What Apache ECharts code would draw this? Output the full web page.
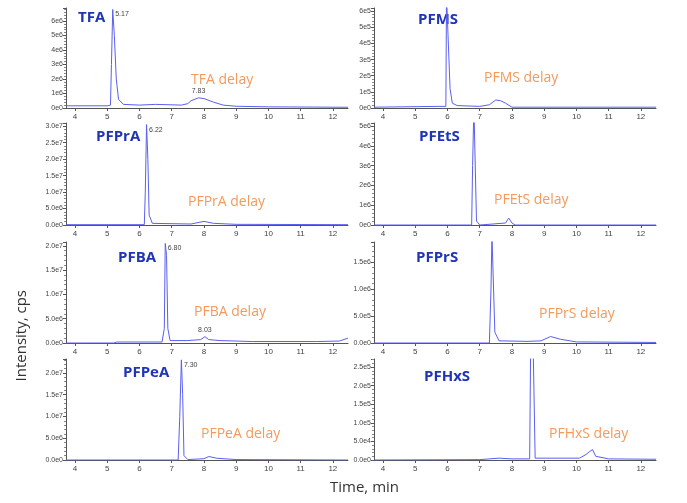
<!DOCTYPE html>
<html>
<head>
<meta charset="utf-8">
<title>PFAS chromatograms</title>
</head>
<body style="margin:0">
<div id="main" style="width:687px;height:503px;"></div>
<script src="https://cdn.jsdelivr.net/npm/echarts@6/dist/echarts.min.js"></script>
<script>
// chromatogram traces, [time (min), intensity (cps)]
const tfa = [[3.72,1.5e5],[5.0,1.5e5],[5.1,2e5],[5.13,3e6],[5.17,6.8e6],[5.22,5e6],[5.28,2e6],[5.35,6e5],[5.5,2.5e5],[6,2e5],[6.5,2.5e5],[7.3,2e5],[7.5,3e5],[7.6,5e5],[7.83,7e5],[8,6.5e5],[8.3,4e5],[8.6,2e5],[9,1.2e5],[10,8e4],[12.47,5e4]];
const pfpra = [[3.72,1e5],[6.15,1e5],[6.18,1e7],[6.22,3.05e7],[6.26,2e7],[6.3,3e6],[6.4,5e5],[7.6,3e5],[8,1.1e6],[8.3,5e5],[9,2e5],[12.47,1e5]];
const pfba = [[3.72,0],[5.2,0],[5.3,2e5],[6.7,2e5],[6.77,3e6],[6.8,2.05e7],[6.84,1.8e7],[6.88,3e6],[6.95,5e5],[7.5,5e5],[7.9,7e5],[8.03,1.3e6],[8.15,7e5],[8.5,5e5],[9.5,3e5],[11.5,3e5],[12.2,4e5],[12.47,1e6]];
const pfpea = [[3.72,0],[7.2,0],[7.25,1e7],[7.3,2.3e7],[7.34,1.5e7],[7.38,1e6],[7.5,1e5],[8.0,3e5],[8.15,8e5],[8.4,4e5],[9,1e5],[12.47,0]];
const pfms = [[3.72,5e3],[5.7,1e4],[5.95,1e4],[5.97,7e5],[6.03,7e5],[6.08,1.2e5],[6.15,3e4],[6.3,1.5e4],[7.0,1e4],[7.3,2e4],[7.5,5e4],[7.65,4.5e4],[7.8,3e4],[8.0,5e3],[12.47,5e3]];
const pfets = [[3.72,0],[5.55,0],[5.6,1e5],[5.65,0],[6.75,0],[6.78,3e6],[6.82,6e6],[6.86,6e6],[6.9,2e5],[7.0,0],[7.8,1e5],[7.9,3.5e5],[8.0,1e5],[8.1,0],[12.47,0]];
const pfprs = [[3.72,0],[7.3,0],[7.35,1e6],[7.38,2e6],[7.42,2e6],[7.47,2e5],[7.6,4e4],[8.5,3e4],[8.9,4e4],[9.2,1.2e5],[9.5,7e4],[10,2e4],[12.47,1e4]];
const pfhxs = [[3.72,0],[7.0,1e3],[7.6,5e3],[8,3e3],[8.55,3e3],[8.58,3e5],[8.66,3e5],[8.72,5e3],[10.1,5e3],[10.3,1.5e4],[10.4,2.2e4],[10.5,2.8e4],[10.6,1e4],[11,3e3],[12.47,2e3]];

const traces = [tfa, pfpra, pfba, pfpea, pfms, pfets, pfprs, pfhxs];
const names = ['TFA','PFPrA','PFBA','PFPeA','PFMS','PFEtS','PFPrS','PFHxS'];
const delayNames = names.map(n => n + ' delay');
const xTicks = [4, 5, 6, 7, 8, 9, 10, 11, 12];
const yMax = [6.9e6, 3.1e7, 2.08e7, 2.32e7, 6.2e5, 5.15e6, 1.87e6, 2.72e5];
const yStep = [1e6, 5e6, 5e6, 5e6, 1e5, 1e6, 5e5, 5e4];
const yLabelFmt = ['int','fix','fix','fix','int','int','fix','fix'];
// apex labels: [panel index, time, intensity, main peak?]
const apexLabels = [[0,5.17,6.8e6,1],[0,7.83,7e5,0],[1,6.22,3.05e7,1],[2,6.80,2.05e7,1],[2,8.03,1.3e6,0],[3,7.30,2.3e7,1]];

const tops = [8, 123, 242, 359];
const bottoms = [108, 225, 343, 460];
const lefts = [66, 374];
const plotW = 282;
// name and delay-text offsets within each panel
const nameOff = [[12,2],[30,6],[52,8],[57,6],[44,4],[45,6],[42,8],[50,10]];
const delayOff = [[125,65],[122,72],[128,63],[135,68],[110,63],[120,70],[165,65],[175,68]];

function fmtExp(v, mode) {
  if (v === 0) return mode === 'int' ? '0e0' : '0.0e0';
  const e = Math.floor(Math.log10(v) + 1e-9);
  const m = v / Math.pow(10, e);
  return (mode === 'int' ? Math.round(m) : m.toFixed(1)) + 'e' + e;
}

const grid = [], xAxis = [], yAxis = [], series = [], graphic = [];
traces.forEach((d, i) => {
  const col = i < 4 ? 0 : 1, row = i % 4;
  const left = lefts[col], top = tops[row];
  grid.push({left: left, top: top, width: plotW, height: bottoms[row] - top});
  xAxis.push({
    gridIndex: i, type: 'value', min: 3.72, max: 12.47,
    axisLine: {lineStyle: {color: '#555'}},
    axisTick: {length: 3, customValues: xTicks, lineStyle: {color: '#555'}},
    axisLabel: {fontSize: 8, color: '#444', margin: 5, customValues: xTicks},
    splitLine: {show: false}
  });
  yAxis.push({
    gridIndex: i, type: 'value', min: 0, max: yMax[i], interval: yStep[i],
    axisLine: {show: true, lineStyle: {color: '#555'}},
    axisTick: {show: true, length: 3, lineStyle: {color: '#555'}},
    minorTick: {show: true, splitNumber: 5, length: 2, lineStyle: {color: '#888'}},
    axisLabel: {fontSize: 7, color: '#444', margin: 3, showMaxLabel: false,
      formatter: v => fmtExp(v, yLabelFmt[i])},
    splitLine: {show: false}
  });
  const marks = apexLabels.filter(a => a[0] === i).map(a => ({
    coord: [a[1], a[2]], value: a[1].toFixed(2),
    label: a[3] ? {position: 'right', offset: [0, 5]} : {position: 'top', offset: [0, -1]}
  }));
  series.push({
    type: 'line', xAxisIndex: i, yAxisIndex: i, data: d, symbol: 'none',
    clip: true, silent: true,
    lineStyle: {color: '#5a5ff0', width: 1},
    markPoint: {
      symbol: 'circle', symbolSize: 1, itemStyle: {color: 'transparent'},
      label: {show: true, distance: 2, fontSize: 7, color: '#444', formatter: p => p.value},
      data: marks
    }
  });
  graphic.push({type: 'text', left: left + nameOff[i][0], top: top + nameOff[i][1],
    style: {text: names[i], font: 'bold 15px "Open Sans", sans-serif', fill: '#1f35b5'}});
  graphic.push({type: 'text', left: left + delayOff[i][0], top: top + delayOff[i][1],
    style: {text: delayNames[i], font: '14px "Open Sans", sans-serif', fill: '#f39a5c'}});
});

graphic.push({type: 'text', left: 330, top: 480,
  style: {text: 'Time, min', font: '15px "Open Sans", sans-serif', fill: '#333'}});
graphic.push({type: 'text', left: 14, top: 290, rotation: Math.PI / 2,
  style: {text: 'Intensity, cps', font: '15px "Open Sans", sans-serif', fill: '#333'}});

const chart = echarts.init(document.getElementById('main'));
chart.setOption({animation: false, grid, xAxis, yAxis, series, graphic});
</script>
</body>
</html>
